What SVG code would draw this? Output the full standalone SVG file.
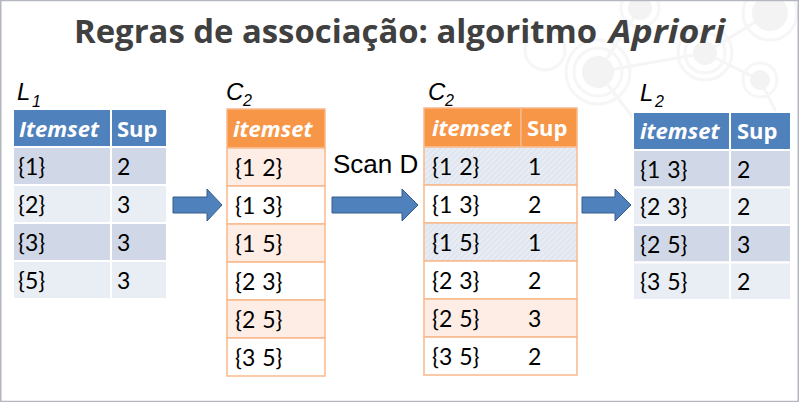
<svg xmlns="http://www.w3.org/2000/svg" width="800" height="402" viewBox="0 0 800 402">
<style>
.title{font-family:"Open Sans","DejaVu Sans",sans-serif;font-weight:bold;font-size:32px;fill:#404040}
.lbl{font-family:"Liberation Sans",Arial,sans-serif;font-style:italic;font-size:24px;fill:#000}
.sub{font-family:"Liberation Sans",Arial,sans-serif;font-style:italic;font-size:16px;fill:#000}
.hdi{font-family:"Open Sans","DejaVu Sans",sans-serif;font-weight:bold;font-style:italic;font-size:22px;fill:#fff}
.hd{font-family:"Open Sans","DejaVu Sans",sans-serif;font-weight:bold;font-size:22px;fill:#fff}
.cell{font-family:Lato,"Open Sans",sans-serif;font-size:23px;fill:#000;word-spacing:1px}
.scan{font-family:"Liberation Sans",Arial,sans-serif;font-size:26px;fill:#000}
.bh{fill:#4F81BD;stroke:#fff;stroke-width:2}
.bd{fill:#D0D8E8;stroke:#fff;stroke-width:2}
.bl{fill:#E9EDF4;stroke:#fff;stroke-width:2}
.oh{fill:#F79646;stroke:#F9B98C;stroke-width:1.5}
.op{fill:#FDEDE5;stroke:#F9B98C;stroke-width:1.5}
.ow{fill:#fff;stroke:#F9B98C;stroke-width:1.5}
.oz{fill:url(#hatch);stroke:#F9B98C;stroke-width:1.5}
.arrow{fill:#4F81BD;stroke:#385D8A;stroke-width:1}
.deco{fill:#F3F3F3}
.ring{fill:none;stroke:#F6F6F6;stroke-width:3}
.dline{stroke:#F5F5F5;stroke-width:3}
</style>
<defs>
<pattern id="hatch" width="4" height="4" patternUnits="userSpaceOnUse" patternTransform="rotate(45)">
<rect width="4" height="4" fill="#E7ECF4"/>
<line x1="0" y1="0" x2="0" y2="4" stroke="#D6DEEA" stroke-width="1.5"/>
</pattern>
</defs>
<rect x="0" y="0" width="800" height="402" fill="#fff"/>
<g id="background">
<line class="dline" x1="598" y1="72" x2="705" y2="53"/>
<line class="dline" x1="705" y1="53" x2="770" y2="13"/>
<line class="dline" x1="705" y1="53" x2="760" y2="80"/>
<line class="dline" x1="598" y1="72" x2="640" y2="8"/>
<line class="dline" x1="598" y1="72" x2="650" y2="140"/>
<line class="dline" x1="760" y1="80" x2="790" y2="140"/>
<circle class="deco" cx="598" cy="72" r="16"/>
<circle class="ring" cx="598" cy="72" r="24"/>
<circle class="ring" cx="598" cy="72" r="32"/>
<circle class="deco" cx="705" cy="53" r="12"/>
<circle class="ring" cx="705" cy="53" r="20"/>
<circle class="ring" cx="705" cy="53" r="27"/>
<circle class="deco" cx="760" cy="80" r="10"/>
<circle class="ring" cx="760" cy="80" r="17"/>
<circle class="deco" cx="770" cy="13" r="18"/>
<circle class="ring" cx="770" cy="13" r="27"/>
<circle class="deco" cx="640" cy="8" r="12"/>
<circle class="ring" cx="640" cy="8" r="19"/>
<circle class="ring" cx="545" cy="50" r="20"/>
</g>
<rect x="0.75" y="0.5" width="797.5" height="401" fill="none" stroke="#B4B6C0" stroke-width="1.5"/>
<g id="title">
<text class="title" x="74" y="43" textLength="523" lengthAdjust="spacingAndGlyphs">Regras de associação: algoritmo</text>
<text class="title" x="609" y="43" font-style="italic" textLength="116" lengthAdjust="spacingAndGlyphs">Apriori</text>
</g>
<g id="connectors">
<polygon class="arrow" points="173,197 207,197 207,189 222,205 207,221 207,213 173,213"/>
<polygon class="arrow" points="332,197 402,197 402,189 418,205 402,221 402,213 332,213"/>
<polygon class="arrow" points="582,197 615,197 615,189 631,205 615,221 615,213 582,213"/>
<text class="scan" x="333" y="173">Scan D</text>
</g>
<g id="L1">
<text class="lbl" x="17" y="100">L</text><text class="sub" x="32" y="107">1</text>
<rect class="bh" x="13" y="109" width="98" height="38"/>
<rect class="bh" x="111" y="109" width="56" height="38"/>
<rect class="bd" x="13" y="147" width="98" height="38"/><rect class="bd" x="111" y="147" width="56" height="38"/>
<rect class="bl" x="13" y="185" width="98" height="38"/><rect class="bl" x="111" y="185" width="56" height="38"/>
<rect class="bd" x="13" y="223" width="98" height="38"/><rect class="bd" x="111" y="223" width="56" height="38"/>
<rect class="bl" x="13" y="261" width="98" height="38"/><rect class="bl" x="111" y="261" width="56" height="38"/>
<text class="hdi" x="19" y="137">Itemset</text><text class="hd" x="117" y="137">Sup</text>
<text class="cell" x="18" y="175">{1}</text><text class="cell" x="117" y="175">2</text>
<text class="cell" x="18" y="213">{2}</text><text class="cell" x="117" y="213">3</text>
<text class="cell" x="18" y="251">{3}</text><text class="cell" x="117" y="251">3</text>
<text class="cell" x="18" y="289">{5}</text><text class="cell" x="117" y="289">3</text>
</g>
<g id="C2a">
<text class="lbl" x="226" y="100">C</text><text class="sub" x="243" y="106">2</text>
<rect class="oh" x="227" y="109" width="98" height="39"/>
<rect class="op" x="227" y="148" width="98" height="38"/>
<rect class="ow" x="227" y="186" width="98" height="38"/>
<rect class="op" x="227" y="224" width="98" height="38"/>
<rect class="ow" x="227" y="262" width="98" height="38"/>
<rect class="op" x="227" y="300" width="98" height="38"/>
<rect class="ow" x="227" y="338" width="98" height="38"/>
<text class="hdi" x="233" y="137">itemset</text>
<text class="cell" x="235" y="176">{1 2}</text>
<text class="cell" x="235" y="214">{1 3}</text>
<text class="cell" x="235" y="252">{1 5}</text>
<text class="cell" x="235" y="290">{2 3}</text>
<text class="cell" x="235" y="328">{2 5}</text>
<text class="cell" x="235" y="366">{3 5}</text>
</g>
<g id="C2b">
<text class="lbl" x="428" y="100">C</text><text class="sub" x="445" y="106">2</text>
<rect class="oh" x="424" y="108" width="97" height="39"/><rect class="oh" x="521" y="108" width="56" height="39"/>
<rect class="oz" x="424" y="147" width="153" height="38"/>
<rect class="ow" x="424" y="185" width="153" height="38"/>
<rect class="oz" x="424" y="223" width="153" height="38"/>
<rect class="ow" x="424" y="261" width="153" height="38"/>
<rect class="op" x="424" y="299" width="153" height="38"/>
<rect class="ow" x="424" y="337" width="153" height="38"/>
<text class="hdi" x="432" y="136">itemset</text><text class="hd" x="527" y="136">Sup</text>
<text class="cell" x="432" y="175">{1 2}</text><text class="cell" x="528" y="175">1</text>
<text class="cell" x="432" y="213">{1 3}</text><text class="cell" x="528" y="213">2</text>
<text class="cell" x="432" y="251">{1 5}</text><text class="cell" x="528" y="251">1</text>
<text class="cell" x="432" y="289">{2 3}</text><text class="cell" x="528" y="289">2</text>
<text class="cell" x="432" y="327">{2 5}</text><text class="cell" x="528" y="327">3</text>
<text class="cell" x="432" y="365">{3 5}</text><text class="cell" x="528" y="365">2</text>
</g>
<g id="L2">
<text class="lbl" x="640" y="101">L</text><text class="sub" x="655" y="107">2</text>
<rect class="bh" x="633" y="112" width="97" height="38"/><rect class="bh" x="730" y="112" width="61" height="38"/>
<rect class="bd" x="633" y="150" width="97" height="37.5"/><rect class="bd" x="730" y="150" width="61" height="37.5"/>
<rect class="bl" x="633" y="187.5" width="97" height="37.5"/><rect class="bl" x="730" y="187.5" width="61" height="37.5"/>
<rect class="bd" x="633" y="225" width="97" height="37.5"/><rect class="bd" x="730" y="225" width="61" height="37.5"/>
<rect class="bl" x="633" y="262.5" width="97" height="37.5"/><rect class="bl" x="730" y="262.5" width="61" height="37.5"/>
<text class="hdi" x="640" y="139">itemset</text><text class="hd" x="737" y="139">Sup</text>
<text class="cell" x="640" y="178">{1 3}</text><text class="cell" x="737" y="178">2</text>
<text class="cell" x="640" y="215">{2 3}</text><text class="cell" x="737" y="215">2</text>
<text class="cell" x="640" y="253">{2 5}</text><text class="cell" x="737" y="253">3</text>
<text class="cell" x="640" y="290">{3 5}</text><text class="cell" x="737" y="290">2</text>
</g>
</svg>
